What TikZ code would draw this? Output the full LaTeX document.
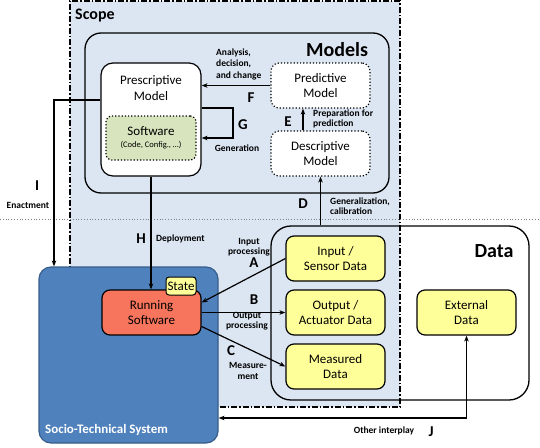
\documentclass[tikz,border=0pt]{standalone}
\usepackage{fontspec}
\setmainfont{Carlito}
\usetikzlibrary{arrows.meta}
\definecolor{scopeblue}{RGB}{220,230,242}
\definecolor{stsblue}{RGB}{79,129,189}
\definecolor{stsedge}{RGB}{56,93,138}
\definecolor{runred}{RGB}{248,117,93}
\definecolor{datayellow}{RGB}{255,255,153}
\definecolor{swgreen}{RGB}{215,228,189}
\tikzset{
  box/.style={draw, line width=1.2pt, rounded corners=8pt, align=center, inner sep=0pt,
    font=\fontsize{13}{15.5}\selectfont},
  databox/.style={box, fill=datayellow, minimum width=99pt, minimum height=45pt},
  modelbox/.style={box, dotted, fill=white, minimum width=99pt, minimum height=45pt},
  arr/.style={line width=1.2pt, -{Stealth[length=6pt,width=4.5pt]}},
  lbl/.style={font=\bfseries\fontsize{9.5}{11.5}\selectfont, align=left, inner sep=0pt},
  letter/.style={font=\bfseries\fontsize{15}{18}\selectfont, inner sep=0pt},
  title/.style={font=\bfseries\fontsize{20}{24}\selectfont, inner sep=0pt},
}

\begin{document}
\begin{tikzpicture}[x=1pt,y=-1pt]
		%%%%% START %%%%%
		\useasboundingbox (0,0) rectangle (540,447);
		
		\node[draw, fill=scopeblue, line width=1.3pt, dash pattern=on 6pt off 2pt on 1.5pt off 2pt,
		  minimum width=330pt, minimum height=406pt] (scope) at (235,204) {};
		\node[anchor=west, font=\bfseries\fontsize{16}{19}\selectfont, inner sep=0pt] (scopetitle) at (75,16) {Scope};
		
		\draw[gray, dotted, line width=0.8pt] (0,219) -- (540,219);
		
		% models
		\node[draw, line width=1.3pt, rounded corners=16pt, minimum width=304pt, minimum height=160pt] (models) at (237,113) {};
		\node[title] (modelstitle) at (337,50) {Models};
		\node[box, fill=white, rounded corners=12pt, minimum width=100pt, minimum height=113pt] (presc) at (151,119.5) {};
		\node[box, draw=none] (presctxt) at (151,88) {Prescriptive\\Model};
		\node[box, dotted, fill=swgreen, rounded corners=6pt, minimum width=90pt, minimum height=44pt] (sw) at (151,138)
		  {Software\\[-3pt]{\fontsize{8.5}{10}\selectfont(Code, Config., \dots)}};
		\node[modelbox] (pred) at (320.5,85.5) {Predictive\\Model};
		\node[modelbox] (desc) at (320.5,153.5) {Descriptive\\Model};
		
		% data
		\node[draw, line width=1.3pt, rounded corners=20pt, minimum width=258pt, minimum height=174pt] (data) at (400,313) {};
		\node[title] (datatitle) at (494,251) {Data};
		\node[databox] (insens) at (335.5,258.5) {Input /\\Sensor Data};
		\node[databox] (outact) at (335.5,312.5) {Output /\\Actuator Data};
		\node[databox] (meas) at (335.5,366.5) {Measured\\Data};
		\node[databox] (ext) at (466.5,312.5) {External\\Data};
		
		% socio-technical system
		\node[draw=stsedge, fill=stsblue, line width=1.2pt, rounded corners=12pt, minimum width=179pt, minimum height=176pt] (socio) at (128.5,355) {};
		\node[anchor=west, text=white, font=\bfseries\fontsize{13}{16}\selectfont, inner sep=0pt] (sociotitle) at (45,430) {Socio-Technical System};
		\node[box, fill=runred, minimum width=99pt, minimum height=45pt] (run) at (151.5,312.5) {Running\\Software};
		\node[box, fill=datayellow, rounded corners=3pt, line width=1pt, minimum width=30pt, minimum height=18pt] (state) at (181,286) {State};
		
		% connectors
		\draw[arr] (pred.west) -- (pred.west -| presc.east);
		\coordinate (gtop) at (233,108);
		\coordinate (gbot) at (233,138);
		\draw[arr] (presc.east |- gtop) -- (gtop) -- (gbot) -- (presc.east |- gbot);
		\draw[arr] ([xshift=-17.5pt]desc.north) -- ([xshift=-17.5pt]pred.south);
		\draw[arr] (desc.south |- data.north) -- (desc.south);
		\draw[arr] (presc.south) -- (presc.south |- run.north);
		\coordinate (ibend) at (54,100);
		\draw[arr] (presc.west |- ibend) -- (ibend) -- (ibend |- socio.north);
		\draw[arr] (insens.west) -- ([yshift=10pt]run.east);
		\draw[arr] (run.east) -- (outact.west);
		\draw[arr] ([yshift=-14pt]run.east) -- (meas.west);
		\coordinate (jbend) at (466.5,418);
		\draw[arr, {Stealth[length=6pt,width=4.5pt]}-{Stealth[length=6pt,width=4.5pt]}] (ext.south) -- (jbend) -- (jbend -| socio.east);
		
		% labels
		\node[lbl, anchor=west] (flbl) at (216,64) {Analysis,\\decision,\\and change};
		\node[letter] (fltr) at (251,98) {F};
		\node[letter] (gltr) at (243,125) {G};
		\node[lbl] (glbl) at (237,148) {Generation};
		\node[letter] (eltr) at (288,122) {E};
		\node[lbl, anchor=west, font=\bfseries\fontsize{9.5}{10.5}\selectfont] (elbl) at (313,119) {Preparation for\\prediction};
		\node[letter] (dltr) at (303,204) {D};
		\node[lbl, anchor=west, font=\bfseries\fontsize{9.5}{10.5}\selectfont] (dlbl) at (330,206) {Generalization,\\calibration};
		\node[letter] (iltr) at (37,186) {I};
		\node[lbl] (ilbl) at (28,205) {Enactment};
		\node[letter] (hltr) at (141,239) {H};
		\node[lbl, anchor=west] (hlbl) at (156,239) {Deployment};
		\node[lbl, align=center, font=\bfseries\fontsize{9.5}{9.5}\selectfont] (albl) at (249,247) {Input\\processing};
		\node[letter] (altr) at (254,263) {A};
		\node[letter] (bltr) at (254,300) {B};
		\node[lbl, align=center, font=\bfseries\fontsize{9.5}{9.5}\selectfont] (blbl) at (247,321) {Output\\processing};
		\node[letter] (cltr) at (231,351) {C};
		\node[lbl, align=center] (clbl) at (248,371) {Measure-\\ment};
		\node[lbl] (jlbl) at (384,431) {Other interplay};
		\node[letter] (jltr) at (431,432) {J};
		
		%%%%% END %%%%%
\end{tikzpicture}
\end{document}
